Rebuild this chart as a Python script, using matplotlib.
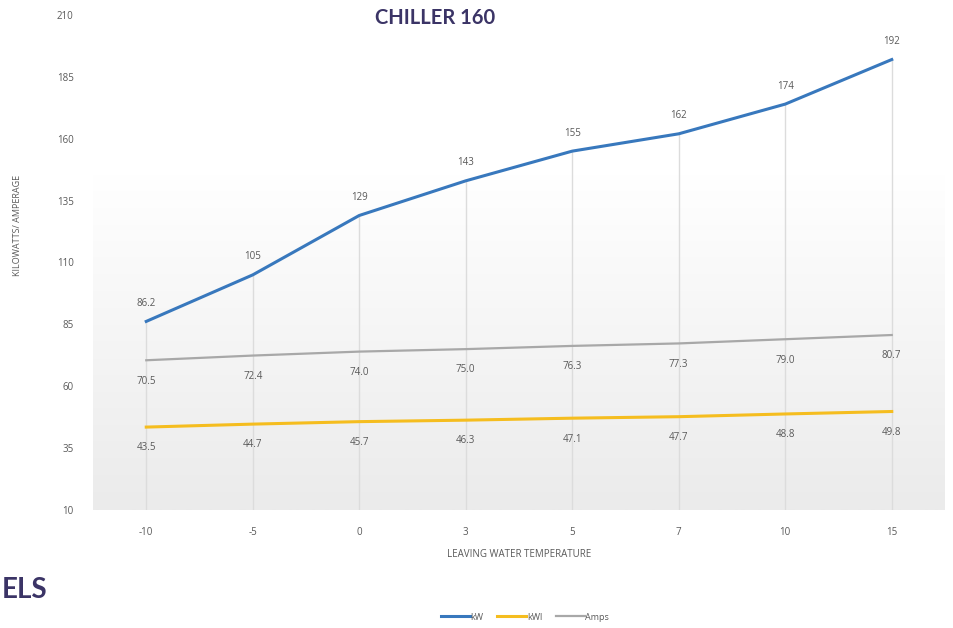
import matplotlib
matplotlib.use("Agg")
import matplotlib.pyplot as plt
from matplotlib.colors import LinearSegmentedColormap
import numpy as np

temps = ["-10", "-5", "0", "3", "5", "7", "10", "15"]
kw = [86.2, 105, 129, 143, 155, 162, 174, 192]
kwl = [43.5, 44.7, 45.7, 46.3, 47.1, 47.7, 48.8, 49.8]
amps = [70.5, 72.4, 74.0, 75.0, 76.3, 77.3, 79.0, 80.7]
kw_labels = ["86.2", "105", "129", "143", "155", "162", "174", "192"]
kwl_labels = ["43.5", "44.7", "45.7", "46.3", "47.1", "47.7", "48.8", "49.8"]
amps_labels = ["70.5", "72.4", "74.0", "75.0", "76.3", "77.3", "79.0", "80.7"]
yticks = [10, 35, 60, 85, 110, 135, 160, 185, 210]

BLUE = "#3878bd"
YELLOW = "#f5bd1f"
GRAY = "#a8a8a8"
PURPLE = "#3b3466"
TXT = "#595959"

plt.rcParams["font.family"] = ["Open Sans", "DejaVu Sans"]

fig = plt.figure(figsize=(9.54, 6.28), dpi=100)
ax = fig.add_axes([93 / 954, 1 - 510 / 628, (945 - 93) / 954, (510 - 15) / 628])

x = np.arange(len(temps))
ax.set_xlim(-0.5, len(temps) - 0.5)
ax.set_ylim(10, 210)

# soft grey gradient behind the plot, white in the upper third
grad = np.linspace(0, 1, 256)
grad = np.clip(grad / 0.68, 0, 1)[:, None]
cmap = LinearSegmentedColormap.from_list("bg", ["#ebebeb", "#ffffff"])
ax.imshow(grad, cmap=cmap, aspect="auto", extent=[0, 1, 0, 1],
          transform=ax.transAxes, origin="lower", zorder=0)

# drop lines from kW points
ax.vlines(x, 10, kw, color="#dcdcdc", lw=1, zorder=1)

ax.plot(x, kw, color=BLUE, lw=2.2, label="kW", zorder=3)
ax.plot(x, kwl, color=YELLOW, lw=2.2, label="kWl", zorder=3)
ax.plot(x, amps, color=GRAY, lw=1.6, label="Amps", zorder=3)

for xi, v, t in zip(x, kw, kw_labels):
    ax.annotate(t, (xi, v), xytext=(0, 13), textcoords="offset points",
                ha="center", va="center", fontsize=7, color=TXT)
for xi, v, t in zip(x, amps, amps_labels):
    ax.annotate(t, (xi, v), xytext=(0, -15), textcoords="offset points",
                ha="center", va="center", fontsize=7, color=TXT)
for xi, v, t in zip(x, kwl, kwl_labels):
    ax.annotate(t, (xi, v), xytext=(0, -15), textcoords="offset points",
                ha="center", va="center", fontsize=7, color=TXT)

ax.set_xticks(x)
ax.set_xticklabels(temps)
ax.set_yticks(yticks)
ax.tick_params(length=0, labelsize=7, colors=TXT, pad=14)
ax.tick_params(axis="x", pad=12)
for s in ax.spines.values():
    s.set_visible(False)

ax.set_xlabel("LEAVING WATER TEMPERATURE", fontsize=7, color=TXT, labelpad=8)
fig.text(18 / 954, 1 - 225 / 628, "KILOWATTS/ AMPERAGE", rotation=90,
         ha="center", va="center", fontsize=6.5, color=TXT)

fig.text(435 / 954, 1 - 18 / 628, "CHILLER 160", ha="center", va="center",
         fontsize=14.5, fontweight="bold", color=PURPLE, family="Lato")
fig.text(2 / 954, 1 - 590 / 628, "ELS", ha="left", va="center",
         fontsize=20, fontweight="bold", color=PURPLE, family="Lato")

leg = fig.legend(loc="center", bbox_to_anchor=(525 / 954, 1 - 617 / 628),
                 ncol=3, frameon=False, fontsize=6.5, handlelength=3.2,
                 columnspacing=1.5, handletextpad=0.1)
for t in leg.get_texts():
    t.set_color(TXT)

fig.savefig("out.png", dpi=100)
